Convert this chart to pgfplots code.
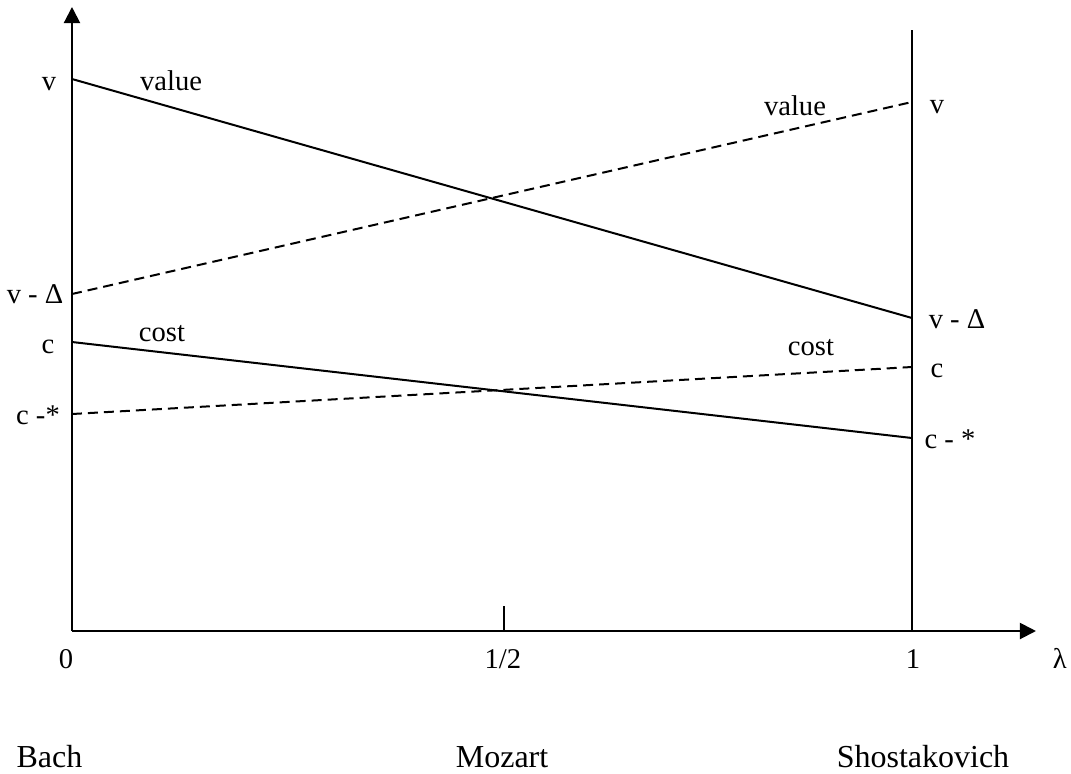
\documentclass[border=0pt]{standalone}
\usepackage{fontspec}
\setmainfont{Liberation Serif}
\usepackage{pgfplots}
\pgfplotsset{compat=1.18}
\usetikzlibrary{arrows.meta}

\begin{document}
\begin{tikzpicture}[
    lbl/.style={font=\fontsize{14.3}{17}\selectfont, inner sep=0pt, anchor=base},
    big/.style={font=\fontsize{16}{19}\selectfont, inner sep=0pt, anchor=base},
]
\begin{axis}[
    x=420pt, y=0.5pt,
    xmin=0, xmax=1.1476,
    ymin=0, ymax=624,
    enlargelimits=false,
    axis lines=left,
    axis line style={line width=1pt, -{Triangle[length=8pt,width=8pt]}},
    xtick={0.514}, xticklabels={},
    ytick=\empty,
    tick align=inside,
    major tick length=12.5pt,
    tick style={black, line width=0.8pt},
    clip=false,
]
% invisible frame fixing the page size
\path (axis cs:-0.0857,-142) rectangle (axis cs:1.1893,631);

% right vertical line at lambda = 1
\addplot[black, line width=1pt, mark=none] coordinates {(1,0) (1,601)};

% value and cost, solid and dashed
\addplot[black, line width=1pt, mark=none] coordinates {(0,552) (1,313)};
\addplot[black, line width=1pt, mark=none, dash pattern=on 5pt off 3pt] coordinates {(0,337) (1,529)};
\addplot[black, line width=1pt, mark=none] coordinates {(0,289) (1,193)};
\addplot[black, line width=1pt, mark=none, dash pattern=on 5pt off 3pt] coordinates {(0,217) (1,264)};

% left labels
\node[lbl] at (axis cs:-0.0274,541) {v};
\node[lbl] at (axis cs:0.1179,541) {value};
\node[lbl] at (axis cs:-0.044,328) {v - Δ};
\node[lbl] at (axis cs:-0.0286,278) {c};
\node[lbl] at (axis cs:0.1071,290) {cost};
\node[lbl] at (axis cs:-0.0405,207) {c -*};

% right labels
\node[lbl] at (axis cs:0.8607,516) {value};
\node[lbl] at (axis cs:1.0298,518) {v};
\node[lbl] at (axis cs:1.0536,303) {v - Δ};
\node[lbl] at (axis cs:0.8798,276) {cost};
\node[lbl] at (axis cs:1.0298,254) {c};
\node[lbl] at (axis cs:1.0452,183) {c - *};

% lambda axis labels
\node[lbl] at (axis cs:-0.0071,-37) {0};
\node[lbl] at (axis cs:0.513,-37) {1/2};
\node[lbl] at (axis cs:1.0012,-37) {1};
\node[lbl] at (axis cs:1.176,-37) {λ};

% composers
\node[big] at (axis cs:-0.0268,-136) {Bach};
\node[big] at (axis cs:0.512,-136) {Mozart};
\node[big] at (axis cs:1.0131,-136) {Shostakovich};
\end{axis}
\end{tikzpicture}
\end{document}
